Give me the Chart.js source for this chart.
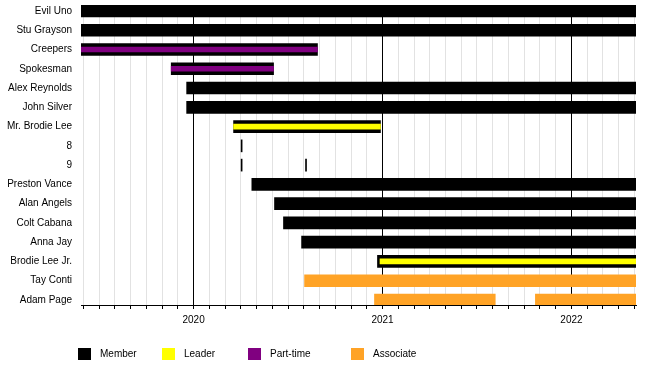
<!DOCTYPE html>
<html>
<head>
<meta charset="utf-8">
<script src="https://cdn.jsdelivr.net/npm/chart.js@4.4.1/dist/chart.umd.min.js"></script>
<style>
  html, body { margin: 0; padding: 0; background: #fff; }
  #wrap { position: relative; width: 650px; height: 365px; }
  #legend { position: absolute; left: 0; top: 348px; width: 650px; height: 14px;
            font: 10px "Liberation Sans", Arial, sans-serif; color: #000; }
  .lg-item { position: absolute; top: 0; height: 13px; white-space: nowrap; }
  .lg-box { position: absolute; left: 0; top: 0; width: 13px; height: 12px; }
  .lg-text { position: absolute; left: 22px; top: 0; line-height: 12px; }
</style>
</head>
<body>
<div id="wrap">
  <canvas id="timeline" width="650" height="365"></canvas>
  <div id="legend"></div>
</div>
<script>
// Dark Order timeline - rows top to bottom
const members = ['Evil Uno', 'Stu Grayson', 'Creepers', 'Spokesman', 'Alex Reynolds', 'John Silver',
  'Mr. Brodie Lee', '8', '9', 'Preston Vance', 'Alan Angels', 'Colt Cabana', 'Anna Jay',
  'Brodie Lee Jr.', 'Tay Conti', 'Adam Page'];

// time = months since 1 Jan 2019 (12 = 2020, 24 = 2021, 36 = 2022)
const axisStart = 4.85;
const axisEnd = 40.1;
const yearTicks = [2020, 2021, 2022];

// spans: [row, from, till]
const memberSpans = [
  [0, 4.85, 40.1], [1, 4.85, 40.1], [2, 4.85, 19.87], [3, 10.58, 17.08],
  [4, 11.56, 40.1], [5, 11.56, 40.1], [6, 14.54, 23.87],
  [7, 15.02, 15.07], [8, 15.02, 15.07], [8, 19.11, 19.16],
  [9, 15.70, 40.1], [10, 17.14, 40.1], [11, 17.71, 40.1], [12, 18.86, 40.1],
  [13, 23.68, 40.1]
];
const leaderSpans = [[6, 14.54, 23.87], [13, 23.84, 40.1]];
const partTimeSpans = [[2, 4.85, 19.87], [3, 10.58, 17.08]];
const associateSpans = [[14, 19.05, 40.1], [15, 23.49, 31.16], [15, 33.71, 40.1]];

const legendLabels = ['Member', 'Leader', 'Part-time', 'Associate'];
const legendColors = ['#000000', '#ffff00', '#800080', '#ffa326'];
const legendLeft = [78, 162, 248, 351];

const toPoints = spans => spans.map(s => ({ x: [s[1], s[2]], y: s[0] }));

Chart.defaults.font.family = '"Liberation Sans", Arial, sans-serif';
Chart.defaults.font.size = 10;
Chart.defaults.color = '#000';

const chart = new Chart(document.getElementById('timeline'), {
  type: 'bar',
  data: {
    datasets: [
      { label: 'Member', data: toPoints(memberSpans), backgroundColor: legendColors[0], barThickness: 12, order: 2 },
      { label: 'Leader', data: toPoints(leaderSpans), backgroundColor: legendColors[1], barThickness: 5, order: 1 },
      { label: 'Part-time', data: toPoints(partTimeSpans), backgroundColor: legendColors[2], barThickness: 5, order: 1 },
      { label: 'Associate', data: toPoints(associateSpans), backgroundColor: legendColors[3], barThickness: 12, order: 2 }
    ]
  },
  options: {
    responsive: false,
    animation: false,
    devicePixelRatio: 1,
    indexAxis: 'y',
    layout: { padding: { top: 5, right: 14, left: 0, bottom: 0 } },
    datasets: { bar: { grouped: false, borderWidth: 0, minBarLength: 1 } },
    plugins: { legend: { display: false }, tooltip: { enabled: false } },
    scales: {
      x: {
        type: 'linear',
        position: 'bottom',
        min: axisStart,
        max: axisEnd,
        afterFit: scale => { scale.height = 60; scale.paddingLeft = 0; scale.paddingRight = 0; },
        border: { color: '#000', width: 1 },
        grid: {
          color: ctx => (ctx.tick && ctx.tick.value % 12 === 0) ? '#000' : '#e2e2e2',
          tickColor: '#000',
          tickLength: 4
        },
        ticks: {
          stepSize: 1,
          includeBounds: false,
          autoSkip: false,
          maxRotation: 0,
          padding: 5,
          callback: v => {
            const yr = 2019 + v / 12;
            return yearTicks.includes(yr) ? String(yr) : '';
          }
        }
      },
      y: {
        type: 'linear',
        reverse: true,
        offset: false,
        min: -0.31,
        max: 15.26,
        afterFit: scale => { scale.width = 81; scale.paddingTop = 0; scale.paddingBottom = 0; },
        border: { display: false },
        grid: { display: false, drawTicks: false, offset: false },
        ticks: {
          stepSize: 1,
          includeBounds: false,
          autoSkip: false,
          padding: 9,
          callback: v => members[v] ?? ''
        }
      }
    }
  }
});

// legend row under the chart
const legendEl = document.getElementById('legend');
legendLabels.forEach((txt, i) => {
  const item = document.createElement('div');
  item.className = 'lg-item';
  item.style.left = legendLeft[i] + 'px';
  item.innerHTML = `<span class="lg-box" style="background:${legendColors[i]}"></span><span class="lg-text">${txt}</span>`;
  legendEl.appendChild(item);
});
</script>
</body>
</html>
